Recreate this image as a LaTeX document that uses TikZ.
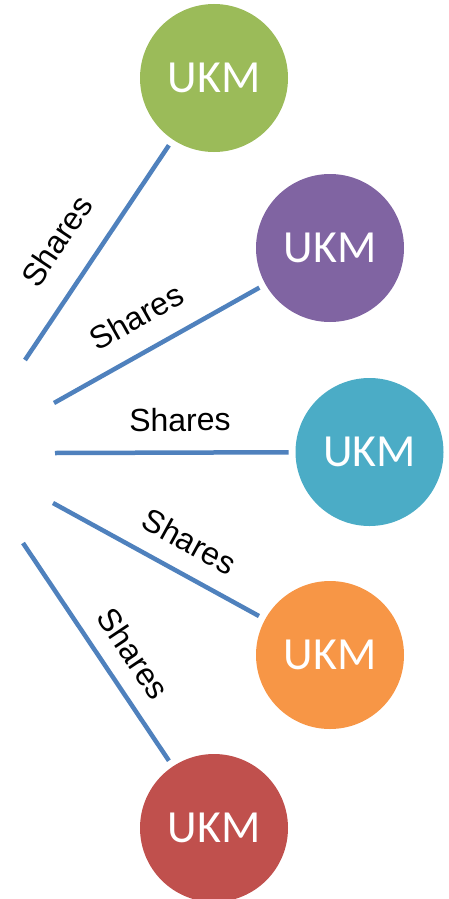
\documentclass[tikz,border=0pt]{standalone}
\usepackage{fontspec}
\setmainfont{Liberation Sans}
\newfontfamily\ukmfont{Carlito}
\definecolor{ukmgreen}{HTML}{9BBB59}
\definecolor{ukmpurple}{HTML}{8064A2}
\definecolor{ukmteal}{HTML}{4BACC6}
\definecolor{ukmorange}{HTML}{F79646}
\definecolor{ukmred}{HTML}{C0504D}
\definecolor{shareblue}{HTML}{4F81BD}

\begin{document}
\begin{tikzpicture}[x=1pt, y=-1pt,
    ukm/.style={circle, minimum size=148pt, inner sep=0pt, outer sep=0pt, text=white, font=\ukmfont\fontsize{46}{50}\selectfont},
    link/.style={line width=4.5pt, shareblue, shorten >=7pt},
    share/.style={sloped, anchor=center, text=black, font=\fontsize{32}{36}\selectfont}]
\useasboundingbox (0,0) rectangle (449,899);
% Draw the circles
\foreach \name/\x/\y/\col in {green/214/78/ukmgreen, purple/330/248/ukmpurple, teal/369.5/452/ukmteal, orange/330/655/ukmorange, red/214/828/ukmred}
    \node[ukm, fill=\col] (\name) at (\x,\y) {UKM};

% Loose ends of the links
\coordinate (green0) at (25,360);
\coordinate (purple0) at (54,403);
\coordinate (teal0) at (55,453);
\coordinate (orange0) at (53,503);
\coordinate (red0) at (23,543);

% Connect the circles
\foreach \name/\pos/\off in {green/0.44/40, purple/0.47/35, teal/0.52/33, orange/0.57/32, red/0.57/30}
    \draw[link] (\name0) -- node[share, pos=\pos, yshift=\off pt] {Shares} (\name);
\end{tikzpicture}
\end{document}
